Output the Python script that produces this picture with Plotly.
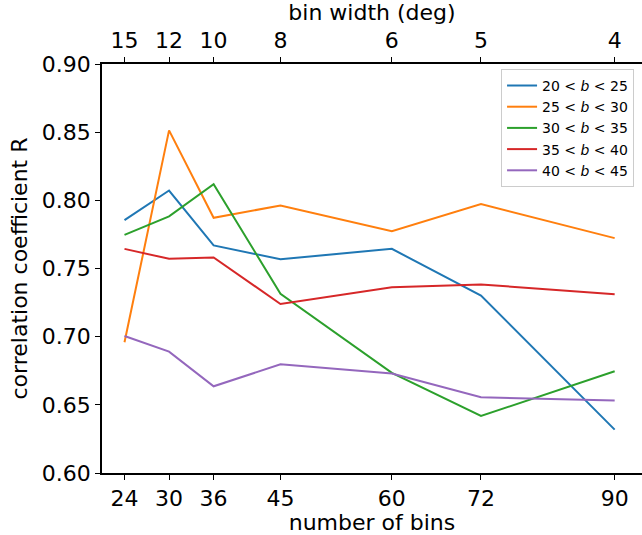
import plotly.graph_objects as go

nbins = [24, 30, 36, 45, 60, 72, 90]
bin_width_labels = ["15", "12", "10", "8", "6", "5", "4"]
y_ticks = [0.60, 0.65, 0.70, 0.75, 0.80, 0.85, 0.90]
y_tick_labels = ["0.60", "0.65", "0.70", "0.75", "0.80", "0.85", "0.90"]

series_names = ["20 < <i>b</i> < 25", "25 < <i>b</i> < 30", "30 < <i>b</i> < 35",
                "35 < <i>b</i> < 40", "40 < <i>b</i> < 45"]
r_20_25 = [0.7855, 0.8072, 0.7669, 0.7568, 0.7644, 0.7302, 0.6318]
r_25_30 = [0.6959, 0.8513, 0.7872, 0.7962, 0.7774, 0.7972, 0.7723]
r_30_35 = [0.7747, 0.7882, 0.8119, 0.7314, 0.6734, 0.6418, 0.6746]
r_35_40 = [0.7644, 0.7571, 0.7581, 0.7240, 0.7363, 0.7383, 0.7312]
r_40_45 = [0.7005, 0.6890, 0.6636, 0.6797, 0.6730, 0.6556, 0.6531]
colors = ["#1f77b4", "#ff7f0e", "#2ca02c", "#d62728", "#9467bd"]

FONT = "DejaVu Sans"
fig = go.Figure()
for i, (name, vals) in enumerate(zip(series_names, [r_20_25, r_25_30, r_30_35, r_35_40, r_40_45])):
    fig.add_trace(go.Scatter(x=nbins, y=vals, mode="lines", name=name,
                             legendgroup=f"g{i}",
                             line=dict(color=colors[i], width=2)))
# carrier for the top axis
fig.add_trace(go.Scatter(x=nbins, y=[None] * len(nbins), xaxis="x2", mode="lines",
                         showlegend=False, hoverinfo="skip"))

xr = [20.97, 93.68]
axis_common = dict(showgrid=False, zeroline=False, ticks="outside", ticklen=5, tickwidth=1.2,
                   tickcolor="black", linecolor="black", linewidth=1.5, showline=True,
                   tickfont=dict(family=FONT, size=22, color="black"))

fig.update_layout(
    width=642, height=535,
    margin=dict(l=102, r=0, t=64, b=62, autoexpand=False),
    paper_bgcolor="white", plot_bgcolor="white",
    font=dict(family=FONT, color="black"),
    xaxis=dict(range=xr, tickvals=nbins, ticktext=[str(n) for n in nbins],
               title=dict(text="number of bins", font=dict(family=FONT, size=22), standoff=2),
               **axis_common),
    xaxis2=dict(range=xr, overlaying="x", side="top", anchor="y", tickvals=nbins,
                ticktext=bin_width_labels,
                title=dict(text="bin width (deg)", font=dict(family=FONT, size=22), standoff=5),
                **axis_common),
    yaxis=dict(range=[0.6, 0.9], tickvals=y_ticks, ticktext=y_tick_labels,
               title=dict(text="correlation coefficient R", font=dict(family=FONT, size=22), standoff=8),
               **axis_common),
    legend=dict(x=0.739, xanchor="left", y=0.988, yanchor="top",
                bgcolor="rgba(255,255,255,0.8)", bordercolor="#cccccc", borderwidth=1,
                font=dict(family=FONT, size=14), tracegroupgap=0),
    showlegend=True,
)
fig.write_html("out.html", config={"displayModeBar": False},
               post_script="document.body.style.margin='0';document.body.style.overflow='hidden';")
